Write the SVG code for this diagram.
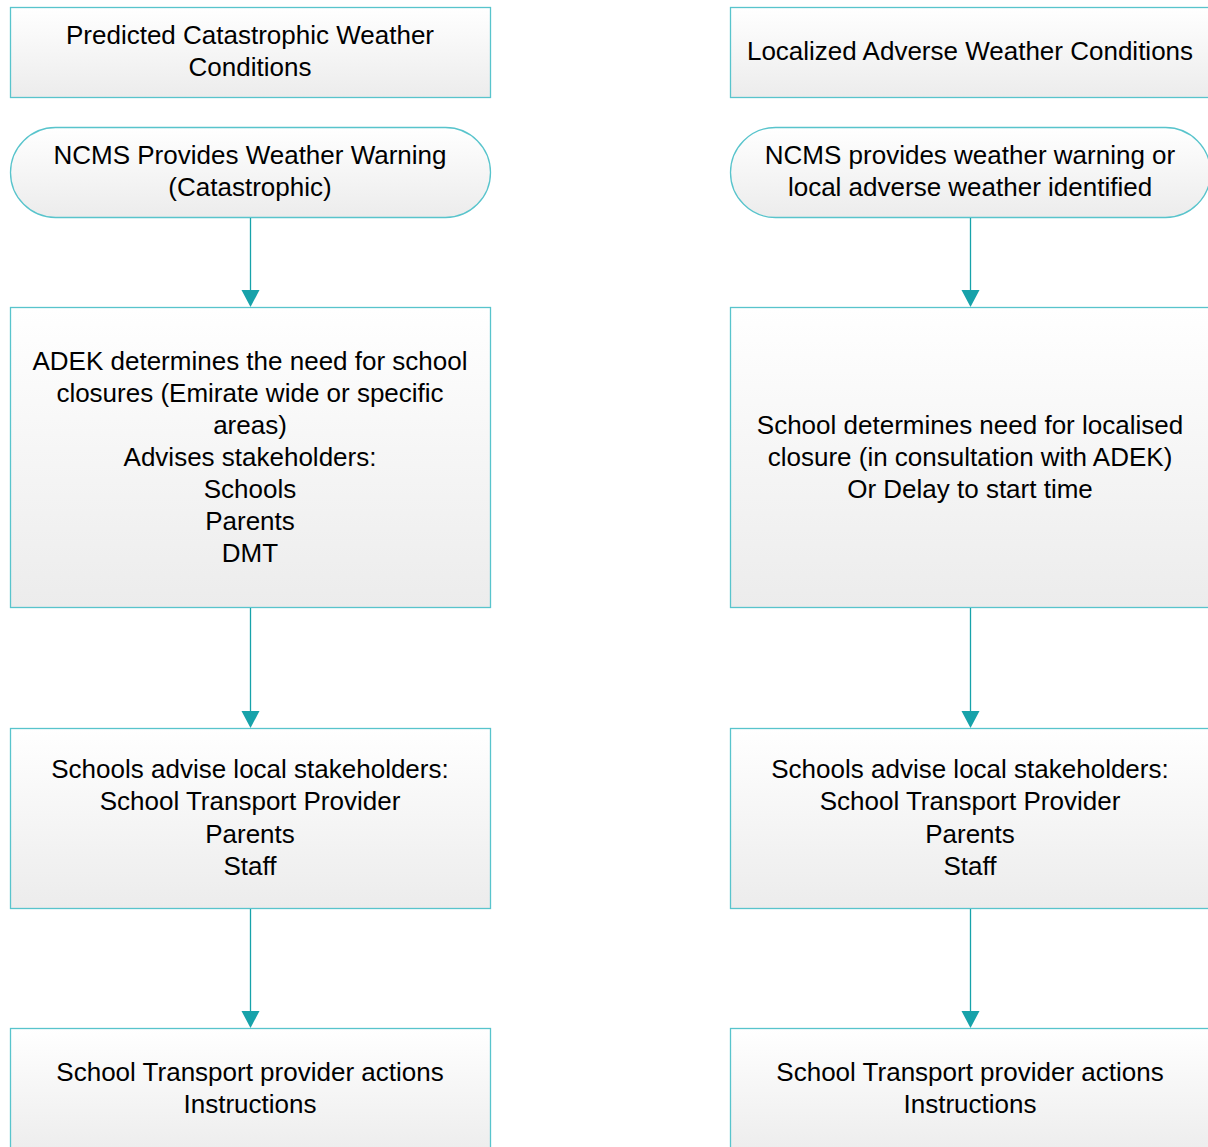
<svg xmlns="http://www.w3.org/2000/svg" width="1208" height="1147" viewBox="0 0 1208 1147">
<defs>
<linearGradient id="g" x1="0" y1="0" x2="0" y2="1">
<stop offset="0" stop-color="#ffffff"/>
<stop offset="1" stop-color="#ececec"/>
</linearGradient>
<style>
.box{fill:url(#g);stroke:#58c4cc;stroke-width:1.3}
.t{font-family:"Liberation Sans",Arial,sans-serif;font-size:26px;fill:#000;text-anchor:middle}
.c{stroke:#17a2aa;stroke-width:1.3;fill:none}
.h{fill:#17a2aa}
</style>
</defs>
<g id="L1"><rect class="box" x="10.5" y="7.5" width="480" height="90"/>
<text class="t" x="250" y="44">Predicted Catastrophic Weather</text>
<text class="t" x="250" y="76">Conditions</text></g>
<g id="L2"><rect class="box" x="10.5" y="127.5" width="480" height="90" rx="45" ry="45"/>
<text class="t" x="250" y="164">NCMS Provides Weather Warning</text>
<text class="t" x="250" y="196">(Catastrophic)</text></g>
<g id="L3"><rect class="box" x="10.5" y="307.5" width="480" height="300"/>
<text class="t" x="250" y="370">ADEK determines the need for school</text>
<text class="t" x="250" y="402">closures (Emirate wide or specific</text>
<text class="t" x="250" y="434">areas)</text>
<text class="t" x="250" y="466">Advises stakeholders:</text>
<text class="t" x="250" y="498">Schools</text>
<text class="t" x="250" y="530">Parents</text>
<text class="t" x="250" y="562">DMT</text></g>
<g id="L4"><rect class="box" x="10.5" y="728.5" width="480" height="180"/>
<text class="t" x="250" y="778">Schools advise local stakeholders:</text>
<text class="t" x="250" y="810">School Transport Provider</text>
<text class="t" x="250" y="843">Parents</text>
<text class="t" x="250" y="875">Staff</text></g>
<g id="L5"><rect class="box" x="10.5" y="1028.5" width="480" height="130"/>
<text class="t" x="250" y="1081">School Transport provider actions</text>
<text class="t" x="250" y="1113">Instructions</text></g>
<g id="R1"><rect class="box" x="730.5" y="7.5" width="480" height="90"/>
<text class="t" x="970" y="60">Localized Adverse Weather Conditions</text></g>
<g id="R2"><rect class="box" x="730.5" y="127.5" width="480" height="90" rx="45" ry="45"/>
<text class="t" x="970" y="164">NCMS provides weather warning or</text>
<text class="t" x="970" y="196">local adverse weather identified</text></g>
<g id="R3"><rect class="box" x="730.5" y="307.5" width="480" height="300"/>
<text class="t" x="970" y="434">School determines need for localised</text>
<text class="t" x="970" y="466">closure (in consultation with ADEK)</text>
<text class="t" x="970" y="498">Or Delay to start time</text></g>
<g id="R4"><rect class="box" x="730.5" y="728.5" width="480" height="180"/>
<text class="t" x="970" y="778">Schools advise local stakeholders:</text>
<text class="t" x="970" y="810">School Transport Provider</text>
<text class="t" x="970" y="843">Parents</text>
<text class="t" x="970" y="875">Staff</text></g>
<g id="R5"><rect class="box" x="730.5" y="1028.5" width="480" height="130"/>
<text class="t" x="970" y="1081">School Transport provider actions</text>
<text class="t" x="970" y="1113">Instructions</text></g>
<g id="connectors">
<path class="c" d="M250.5,218 V292"/><path class="h" d="M241.5,290 H259.5 L250.5,307 Z"/>
<path class="c" d="M250.5,608 V713"/><path class="h" d="M241.5,711 H259.5 L250.5,728 Z"/>
<path class="c" d="M250.5,909 V1013"/><path class="h" d="M241.5,1011 H259.5 L250.5,1028 Z"/>
<path class="c" d="M970.5,218 V292"/><path class="h" d="M961.5,290 H979.5 L970.5,307 Z"/>
<path class="c" d="M970.5,608 V713"/><path class="h" d="M961.5,711 H979.5 L970.5,728 Z"/>
<path class="c" d="M970.5,909 V1013"/><path class="h" d="M961.5,1011 H979.5 L970.5,1028 Z"/>
</g>
</svg>
